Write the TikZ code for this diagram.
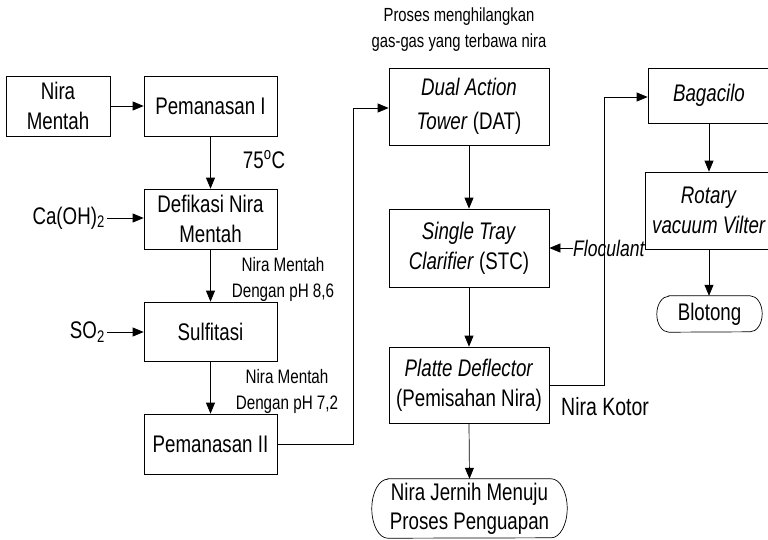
\documentclass[tikz,border=0pt]{standalone}
\usepackage{fontspec}
\setmainfont{Liberation Sans}[FakeStretch=0.78]
\usetikzlibrary{arrows.meta,calc}
\begin{document}
\begin{tikzpicture}[x=1pt,y=-1pt,
  ln/.style={line width=0.7pt},
  box/.style={draw, line width=0.7pt, align=center, inner sep=0pt, font=\fontsize{24}{30}\selectfont},
  tbox/.style={align=center, inner sep=0pt, font=\fontsize{24}{29}\selectfont},
  arr/.style={line width=0.7pt, -{Triangle[length=11pt,width=9pt]}},
  lbl/.style={align=center, inner sep=0pt, font=\fontsize{19.5}{26}\selectfont},
  big/.style={align=center, inner sep=2pt, font=\fontsize{24}{30}\selectfont}]
\useasboundingbox (0,0) rectangle (768,539);

% left column
\node[box, minimum width=104pt, minimum height=60pt] (nm) at (58,106) {Nira\\Mentah};
\node[box, minimum width=133pt, minimum height=60pt] (p1) at (210.5,106) {Pemanasan I};
\node[box, minimum width=133pt, minimum height=60pt] (def) at (210.5,219) {Defikasi Nira\\Mentah};
\node[box, minimum width=133pt, minimum height=59pt] (sul) at (210.5,331.5) {Sulfitasi};
\node[box, minimum width=133pt, minimum height=60pt] (p2) at (210.5,444) {Pemanasan II};

\node[big, anchor=east] (ca) at (107,218) {Ca(OH)\textsubscript{2}};
\node[big, anchor=east] (so) at (107,332) {SO\textsubscript{2}};
\node[big] (t75) at (264,160) {75\textsuperscript{o}C};
\node[lbl] (ph86) at (283,279) {Nira Mentah\\Dengan pH 8,6};
\node[lbl] (ph72) at (287,391) {Nira Mentah\\Dengan pH 7,2};

% middle column
\node[lbl, font=\fontsize{19}{26}\selectfont] (proses) at (459,30) {Proses menghilangkan\\gas-gas yang terbawa nira};
\node[box, minimum width=160pt, minimum height=77pt, font=\fontsize{24}{34}\selectfont] (dat) at (469,106.5) {\textit{Dual Action}\\\textit{Tower} (DAT)};
\node[box, minimum width=160pt, minimum height=78pt] (stc) at (469,248) {\textit{Single Tray}\\\textit{Clarifier} (STC)};
\node[box, minimum width=160pt, minimum height=76pt] (pd) at (469,385) {\textit{Platte Deflector}\\(Pemisahan Nira)};
\node[tbox, minimum width=195pt, minimum height=59pt] (nj) at (469.5,508.5) {Nira Jernih Menuju\\Proses Penguapan};
\draw[ln] ([xshift=16pt]nj.north west) -- ([xshift=-16pt]nj.north east)
  arc[start angle=90,end angle=-90,x radius=16pt,y radius=29.5pt]
  -- ([xshift=16pt]nj.south west)
  arc[start angle=270,end angle=90,x radius=16pt,y radius=29.5pt] -- cycle;

\node[lbl, anchor=west, font=\fontsize{22.5}{26}\selectfont\itshape] (flo) at (573,248) {Floculant};
\node[lbl, anchor=west, font=\fontsize{25}{26}\selectfont] (kotor) at (561,407) {Nira Kotor};

% right column
\node[box, minimum width=122pt, minimum height=55pt] (bag) at (709,95.5) {\textit{Bagacilo}};
\node[box, minimum width=128pt, minimum height=77pt] (rot) at (709,210.5) {\textit{Rotary}\\\textit{vacuum Vilter}};
\node[tbox, minimum width=105pt, minimum height=36pt] (blot) at (709.5,314) {Blotong};
\draw[ln] ([xshift=12pt]blot.north west) -- ([xshift=-12pt]blot.north east)
  arc[start angle=90,end angle=-90,x radius=12pt,y radius=18pt]
  -- ([xshift=12pt]blot.south west)
  arc[start angle=270,end angle=90,x radius=12pt,y radius=18pt] -- cycle;

% connectors
\draw[arr] (nm.east) -- (p1.west);
\draw[arr] (p1.south) -- (def.north);
\draw[arr] (ca.east) -- (ca.east -| def.west);
\draw[arr] (def.south) -- (sul.north);
\draw[arr] (so.east) -- (so.east -| sul.west);
\draw[arr] (sul.south) -- (p2.north);
\coordinate (c1) at (353,444);
\coordinate (c2) at (353,108);
\draw[arr] (p2.east) -- (c1) -- (c2) -- (c2 -| dat.west);
\draw[arr] (dat.south) -- (stc.north);
\draw[arr] (flo.west) -- (stc.east);
\draw[arr] (stc.south) -- (pd.north);
\draw[arr] (pd.south) -- (nj.north);
\coordinate (c3) at (604,385);
\coordinate (c4) at (604,97);
\draw[arr] (pd.east) -- (c3) -- (c4) -- (c4 -| bag.west);
\draw[arr] (bag.south) -- (bag.south |- rot.north);
\draw[arr] (rot.south) -- (rot.south |- blot.north);
\end{tikzpicture}
\end{document}
